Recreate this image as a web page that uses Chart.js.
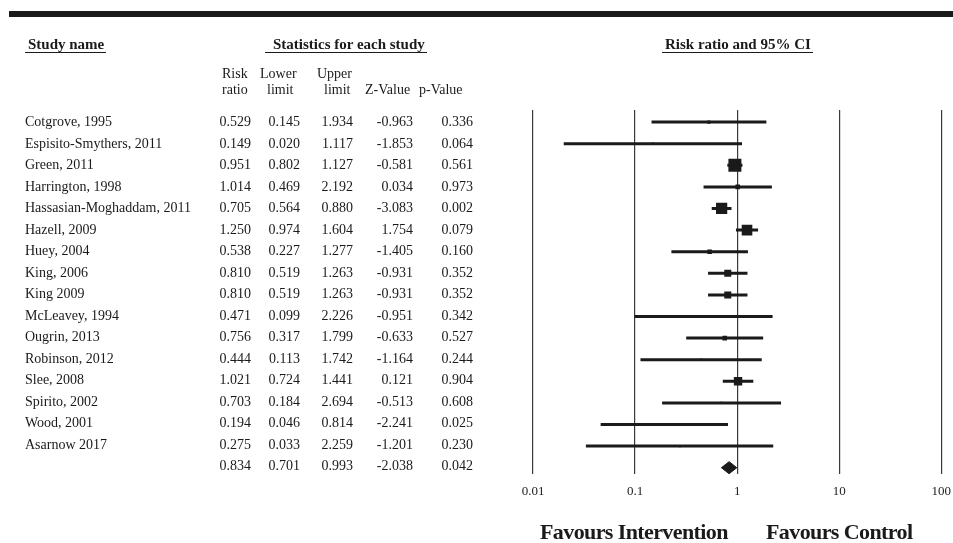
<!DOCTYPE html>
<html lang="en">
<head>
<meta charset="UTF-8" />
<title>Risk ratio and 95% CI</title>
<style>
  body { margin: 0; background: #fff; font-family: "Liberation Serif", serif; color: #1a1a1a; }
  #wrap { position: relative; width: 953px; height: 543px; overflow: hidden; }
  #chart { position: absolute; left: 0; top: 0; }
  .topbar { position: absolute; left: 9px; right: 0; top: 11px; height: 6px; background: #1a1a1a; }
  .hd { position: absolute; top: 36px; font-weight: bold; font-size: 15px; line-height: 16px; border-bottom: 1px solid #1a1a1a; padding: 0 2px 0 3px; white-space: nowrap; }
  .cell { position: absolute; font-size: 14px; line-height: 16px; white-space: nowrap; }
  .num { text-align: right; }
  .fav { position: absolute; top: 519px; font-weight: bold; font-size: 22px; letter-spacing: -0.6px; white-space: nowrap; }
</style>
</head>
<body>
<div id="wrap">
  <canvas id="chart" width="960" height="543"></canvas>
  <div class="topbar"></div>
  <div class="hd" style="left:25px">Study name</div>
  <div class="hd" style="left:265px;padding-left:8px">Statistics for each study</div>
  <div class="hd" style="left:662px">Risk ratio and 95% CI</div>
  <div class="cell" style="left:222px;top:66px">Risk<br>ratio</div>
  <div class="cell" style="left:260px;top:66px">Lower<br>&nbsp;&nbsp;limit</div>
  <div class="cell" style="left:317px;top:66px">Upper<br>&nbsp;&nbsp;limit</div>
  <div class="cell" style="left:365px;top:82px">Z-Value</div>
  <div class="cell" style="left:419px;top:82px">p-Value</div>
  <div id="rows"></div>
  <div class="fav" style="left:540px">Favours Intervention</div>
  <div class="fav" style="left:766px">Favours Control</div>
</div>

<script src="https://cdn.jsdelivr.net/npm/chart.js"></script>
<script>
// study data
const studies = [
  "Cotgrove, 1995", "Espisito-Smythers, 2011", "Green, 2011", "Harrington, 1998",
  "Hassasian-Moghaddam, 2011", "Hazell, 2009", "Huey, 2004", "King, 2006",
  "King 2009", "McLeavey, 1994", "Ougrin, 2013", "Robinson, 2012",
  "Slee, 2008", "Spirito, 2002", "Wood, 2001", "Asarnow 2017"
];
const riskRatio = [0.529, 0.149, 0.951, 1.014, 0.705, 1.250, 0.538, 0.810, 0.810, 0.471, 0.756, 0.444, 1.021, 0.703, 0.194, 0.275];
const lowerLimit = [0.145, 0.020, 0.802, 0.469, 0.564, 0.974, 0.227, 0.519, 0.519, 0.099, 0.317, 0.113, 0.724, 0.184, 0.046, 0.033];
const upperLimit = [1.934, 1.117, 1.127, 2.192, 0.880, 1.604, 1.277, 1.263, 1.263, 2.226, 1.799, 1.742, 1.441, 2.694, 0.814, 2.259];
const zValue = [-0.963, -1.853, -0.581, 0.034, -3.083, 1.754, -1.405, -0.931, -0.931, -0.951, -0.633, -1.164, 0.121, -0.513, -2.241, -1.201];
const pValue = [0.336, 0.064, 0.561, 0.973, 0.002, 0.079, 0.160, 0.352, 0.352, 0.342, 0.527, 0.244, 0.904, 0.608, 0.025, 0.230];
// relative weights (estimated from square sizes)
const weights = [1.5, 0.8, 24, 3, 18, 16, 3, 7, 7, 0.8, 3, 0.8, 10, 0.8, 1.2, 0.6];

// pooled estimate
const pooled = { rr: 0.834, lower: 0.701, upper: 0.993, z: -2.038, p: 0.042 };

const axisTicks = [0.01, 0.1, 1, 10, 100];

// table text
const rowsEl = document.getElementById("rows");
const rowY = i => 122 + 21.5 * i;
const colRight = [251, 300, 353, 413, 473];

function addCell(text, i, opts) {
  const d = document.createElement("div");
  d.className = "cell" + (opts.right ? " num" : "");
  d.textContent = text;
  d.style.top = (rowY(i) - 8) + "px";
  if (opts.right) d.style.right = (953 - opts.right) + "px";
  else d.style.left = opts.left + "px";
  rowsEl.appendChild(d);
}

const tableRows = studies.map((s, i) => [s, riskRatio[i], lowerLimit[i], upperLimit[i], zValue[i], pValue[i]]);
tableRows.push(["", pooled.rr, pooled.lower, pooled.upper, pooled.z, pooled.p]);
tableRows.forEach((r, i) => {
  if (r[0]) addCell(r[0], i, { left: 25 });
  for (let c = 1; c < 6; c++) addCell(r[c].toFixed(3), i, { right: colRight[c - 1] });
});

// chart
const ink = "#1a1a1a";
const datasets = [];

studies.forEach((s, i) => {
  datasets.push({
    label: s,
    data: [{ x: lowerLimit[i], y: i }, { x: upperLimit[i], y: i }],
    showLine: true,
    borderColor: ink,
    borderWidth: 3,
    pointRadius: 0
  });
});

datasets.push({
  label: "weight",
  data: studies.map((s, i) => ({ x: riskRatio[i], y: i })),
  pointStyle: "rect",
  pointRadius: weights.map(w => Math.max(1.5, 1.875 * Math.sqrt(w))),
  backgroundColor: ink,
  borderColor: ink,
  borderWidth: 0
});

const py = studies.length;
datasets.push({
  label: "pooled",
  data: [
    { x: pooled.lower, y: py }, { x: pooled.rr, y: py - 0.28 },
    { x: pooled.upper, y: py }, { x: pooled.rr, y: py + 0.28 },
    { x: pooled.lower, y: py }
  ],
  showLine: true,
  fill: "shape",
  backgroundColor: ink,
  borderColor: ink,
  borderWidth: 1,
  pointRadius: 0,
  tension: 0
});

new Chart(document.getElementById("chart"), {
  type: "scatter",
  data: { datasets },
  options: {
    responsive: false,
    animation: false,
    layout: { padding: { left: 533, right: 5, top: 110, bottom: 35 } },
    plugins: { legend: { display: false }, tooltip: { enabled: false } },
    scales: {
      x: {
        type: "logarithmic",
        min: 0.01,
        max: 100,
        afterBuildTicks: scale => { scale.ticks = axisTicks.map(v => ({ value: v })); },
        grid: { color: "#3a3a3a", lineWidth: 1.2, drawTicks: false },
        border: { display: false },
        ticks: {
          padding: 9,
          color: "#222",
          autoSkip: false,
          maxRotation: 0,
          font: { family: "Liberation Serif", size: 13 },
          callback: v => String(v)
        }
      },
      y: { type: "linear", reverse: true, min: -0.56, max: 16.31, display: false }
    }
  }
});
</script>
</body>
</html>
